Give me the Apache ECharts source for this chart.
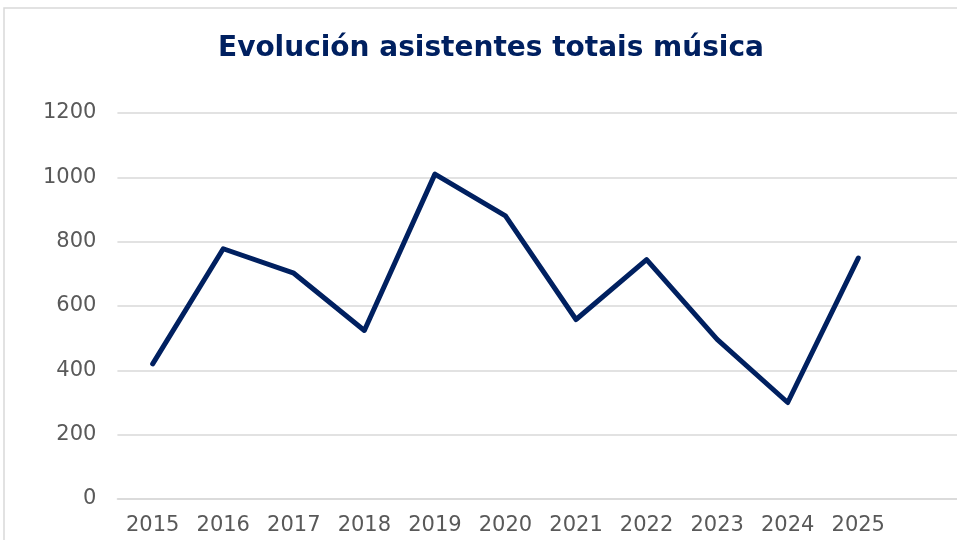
<!DOCTYPE html>
<html>
<head>
<meta charset="utf-8">
<script src="https://cdn.jsdelivr.net/npm/echarts@6/dist/echarts.min.js"></script>
<style>html,body{margin:0;padding:0;background:#fff}#c{width:957px;height:540px}</style>
</head>
<body>
<div id="c"></div>
<script>
const titleText = 'Evolución asistentes totais música';
const years = ['2015','2016','2017','2018','2019','2020','2021','2022','2023','2024','2025'];
const attendees = [420, 778, 702, 524, 1010, 880, 558, 744, 496, 300, 749];
const yTicks = [0, 200, 400, 600, 800, 1000, 1200];

const chart = echarts.init(document.getElementById('c'), null, {renderer: 'canvas'});
const cats = years.concat(['']);
const option = {
  animation: false,
  backgroundColor: '#ffffff',
  title: {
    text: titleText,
    left: 213,
    top: 30,
    textStyle: {fontFamily: 'DejaVu Sans', fontWeight: 'bold', fontSize: 28, color: '#002060'}
  },
  graphic: [{
    type: 'rect', shape: {x: 4, y: 8, width: 980, height: 560},
    style: {fill: null, stroke: '#d9d9d9', lineWidth: 1.5}, silent: true, z: -1
  }],
  grid: {left: 117.4, width: 846.7, top: 113, bottom: 41, containLabel: false, outerBoundsMode: 'none'},
  xAxis: {
    type: 'category', data: cats, boundaryGap: true,
    axisLine: {show: true, lineStyle: {color: '#d9d9d9', width: 1.5}},
    axisTick: {show: false},
    axisLabel: {color: '#595959', fontFamily: 'DejaVu Sans', fontSize: 21, margin: 16, interval: 0}
  },
  yAxis: {
    type: 'value', min: yTicks[0], max: yTicks[yTicks.length - 1], interval: 200,
    axisLine: {show: false}, axisTick: {show: false},
    splitLine: {lineStyle: {color: '#d9d9d9', width: 1.5}},
    axisLabel: {color: '#595959', fontFamily: 'DejaVu Sans', fontSize: 21, margin: 21,
      formatter: function (v) { return String(v); }}
  },
  series: [{
    type: 'line', data: attendees, showSymbol: false, symbol: 'none',
    lineStyle: {color: '#002060', width: 5, cap: 'round', join: 'round'}
  }]
};
chart.setOption(option);
</script>
</body>
</html>
